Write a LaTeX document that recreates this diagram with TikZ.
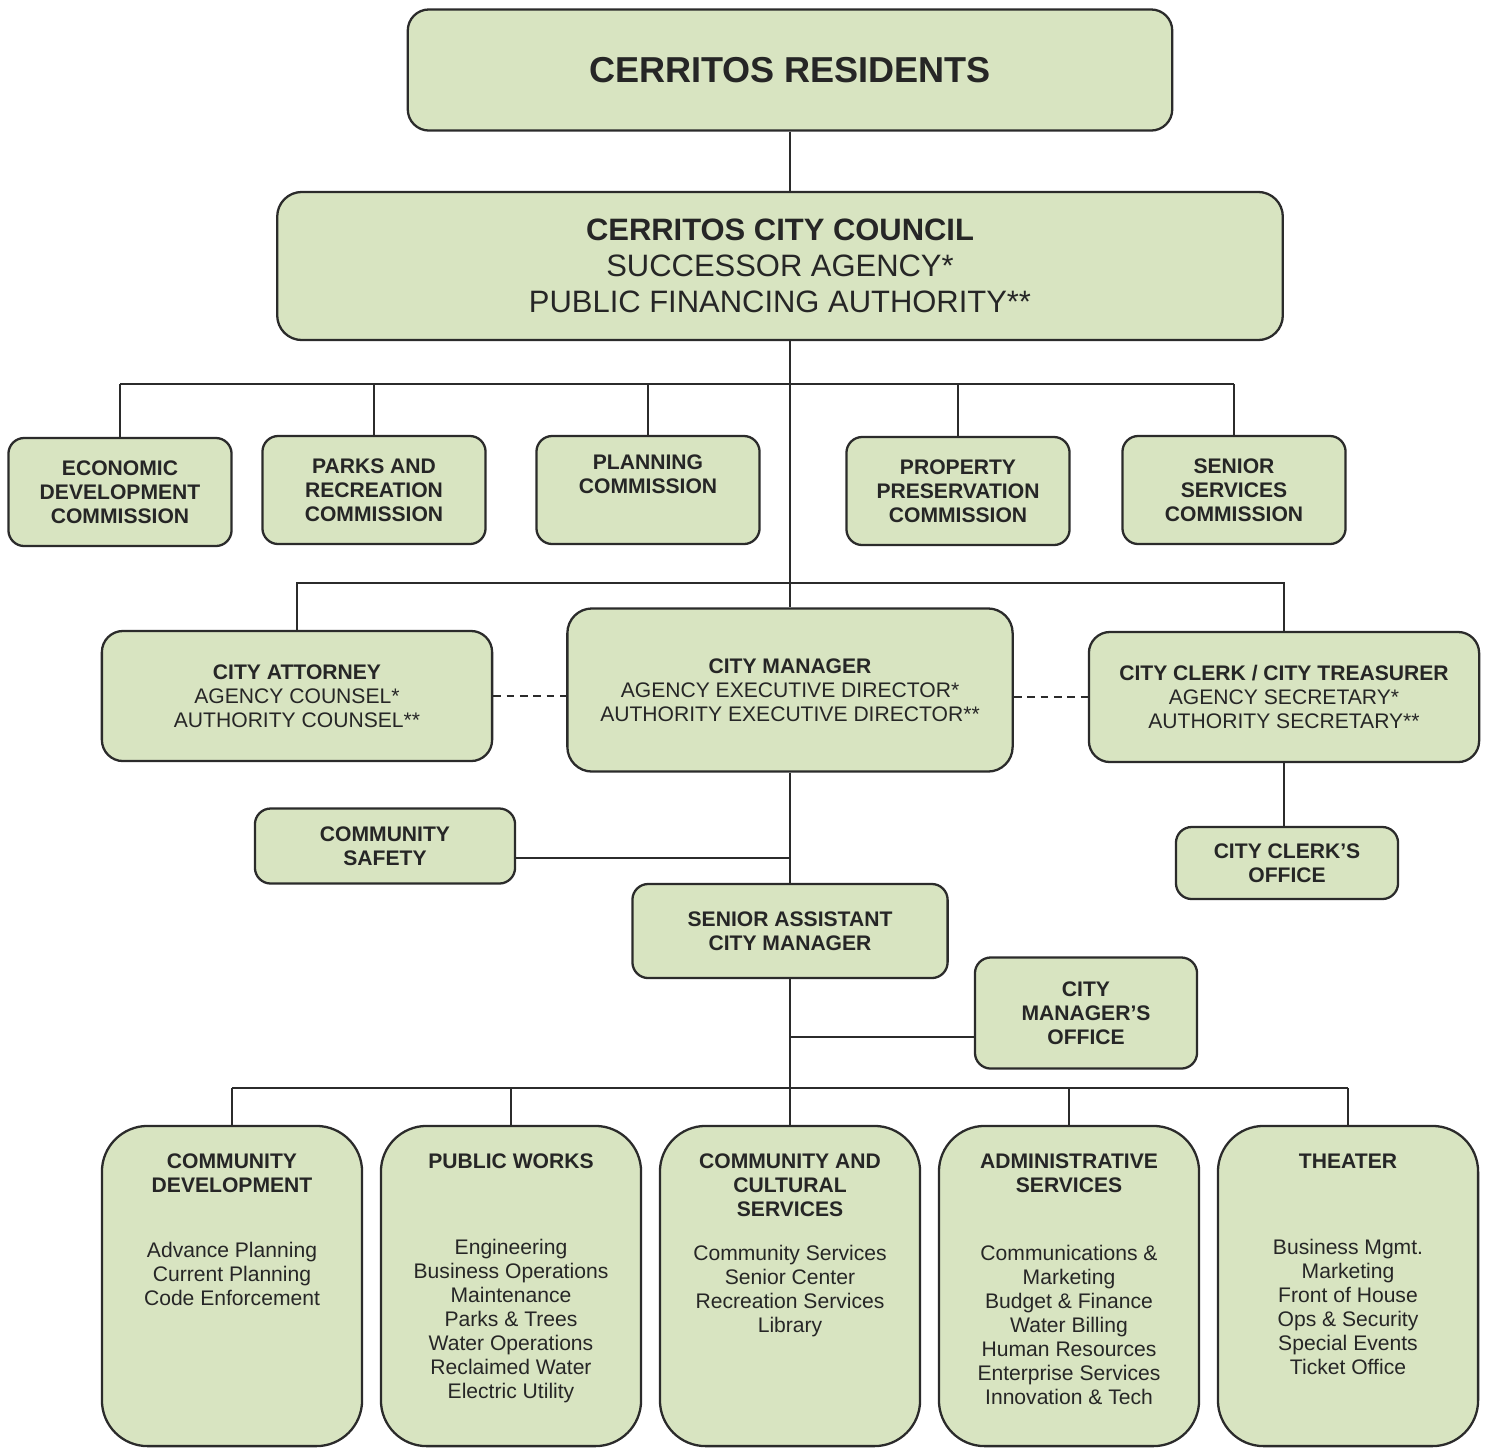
\documentclass[tikz,border=0pt]{standalone}
\usepackage{fontspec}
\setmainfont{Liberation Sans}
\usepackage{xcolor}
\usepackage{tikz}
\usetikzlibrary{positioning}
\definecolor{orggreen}{HTML}{D8E4C1}
\definecolor{orgline}{HTML}{2B2B2B}

\begin{document}
\begin{tikzpicture}[
  x=0.01cm, y=-0.01cm,
  box/.style={draw=orgline, fill=orggreen, line width=0.65pt, rounded corners=4.5pt, align=center, inner sep=0pt, text=black!85},
  commbox/.style={box, minimum width=2.23cm, minimum height=1.08cm, font=\fontsize{6}{6.83}\selectfont\bfseries},
  headbox/.style={box, minimum width=3.9cm, minimum height=1.3cm, font=\fontsize{6}{6.83}\selectfont, rounded corners=6pt},
  smallbox/.style={box, minimum width=2.23cm, font=\fontsize{6}{6.83}\selectfont\bfseries},
  deptbox/.style={box, minimum width=2.6cm, minimum height=3.2cm, rounded corners=13pt},
  depthead/.style={anchor=north, align=center, inner sep=0pt, font=\fontsize{6}{6.83}\selectfont\bfseries, text=black!85},
  deptlist/.style={anchor=north, align=center, inner sep=0pt, font=\fontsize{6}{6.83}\selectfont, text=black!85},
  link/.style={draw=orgline, line width=0.5pt},
  dashlink/.style={link, dash pattern=on 2.2pt off 1.6pt}
]
\useasboundingbox (0,0) rectangle (1486,1448);

% Top
\node[box, minimum width=7.64cm, minimum height=1.21cm, rounded corners=6pt, font=\fontsize{10.25}{12}\selectfont\bfseries] (res) at (790,70) {CERRITOS RESIDENTS};
\node[box, minimum width=10.05cm, minimum height=1.48cm, rounded corners=7pt, font=\fontsize{8.8}{10.2}\selectfont] (council) at (780,266) {\textbf{CERRITOS CITY COUNCIL}\\SUCCESSOR AGENCY*\\PUBLIC FINANCING AUTHORITY**};

% Commissions
\node[commbox] (econ) at (120,492) {ECONOMIC\\DEVELOPMENT\\COMMISSION};
\node[commbox] (parks) at (374,490) {PARKS AND\\RECREATION\\COMMISSION};
\node[commbox] (plan) at (648,490) {PLANNING\\COMMISSION\\\strut};
\node[commbox] (prop) at (958,491) {PROPERTY\\PRESERVATION\\COMMISSION};
\node[commbox] (senior) at (1234,490) {SENIOR\\SERVICES\\COMMISSION};

% Management
\node[headbox] (atty) at (297,696) {\textbf{CITY ATTORNEY}\\AGENCY COUNSEL*\\AUTHORITY COUNSEL**};
\node[headbox, minimum width=4.45cm, minimum height=1.63cm, rounded corners=7pt] (cm) at (790,690) {\textbf{CITY MANAGER}\\AGENCY EXECUTIVE DIRECTOR*\\AUTHORITY EXECUTIVE DIRECTOR**};
\node[headbox] (clerk) at (1284,697) {\textbf{CITY CLERK / CITY TREASURER}\\AGENCY SECRETARY*\\AUTHORITY SECRETARY**};

% Offices
\node[smallbox, minimum width=2.6cm, minimum height=0.75cm] (safety) at (385,846) {COMMUNITY\\SAFETY};
\node[smallbox, minimum width=3.15cm, minimum height=0.94cm] (sacm) at (790,931) {SENIOR ASSISTANT\\CITY MANAGER};
\node[smallbox, minimum width=2.22cm, minimum height=0.72cm] (clerkoff) at (1287,863) {CITY CLERK'S\\OFFICE};
\node[smallbox, minimum width=2.22cm, minimum height=1.11cm] (cmo) at (1086,1013) {CITY\\MANAGER'S\\OFFICE};

% Departments
\node[deptbox] (cd) at (232,1286) {};
\node[depthead] (cdhead) at ([yshift=-0.28cm]cd.north) {COMMUNITY\\DEVELOPMENT};
\node[deptlist] (cdlist) at ([yshift=-1.17cm]cd.north) {Advance Planning\\Current Planning\\Code Enforcement};

\node[deptbox] (pw) at (511,1286) {};
\node[depthead] (pwhead) at ([yshift=-0.28cm]pw.north) {PUBLIC WORKS};
\node[deptlist] (pwlist) at ([yshift=-1.14cm]pw.north) {Engineering\\Business Operations\\Maintenance\\Parks \& Trees\\Water Operations\\Reclaimed Water\\Electric Utility};

\node[deptbox] (ccs) at (790,1286) {};
\node[depthead] (ccshead) at ([yshift=-0.28cm]ccs.north) {COMMUNITY AND\\CULTURAL\\SERVICES};
\node[deptlist] (ccslist) at ([yshift=-1.2cm]ccs.north) {Community Services\\Senior Center\\Recreation Services\\Library};

\node[deptbox] (as) at (1069,1286) {};
\node[depthead] (ashead) at ([yshift=-0.28cm]as.north) {ADMINISTRATIVE\\SERVICES};
\node[deptlist] (aslist) at ([yshift=-1.2cm]as.north) {Communications \&\\Marketing\\Budget \& Finance\\Water Billing\\Human Resources\\Enterprise Services\\Innovation \& Tech};

\node[deptbox] (th) at (1348,1286) {};
\node[depthead] (thhead) at ([yshift=-0.28cm]th.north) {THEATER};
\node[deptlist] (thlist) at ([yshift=-1.14cm]th.north) {Business Mgmt.\\Marketing\\Front of House\\Ops \& Security\\Special Events\\Ticket Office};

% Bus lines
\coordinate (cbus) at (790,384);
\coordinate (mbus) at (790,583);
\coordinate (dbus) at (790,1088);

% Connectors
\draw[link] (res.south) -- (res.south |- council.north);
\draw[link] (council.south -| cm.north) -- (cm.north);
\draw[link] (cbus -| econ.north) -- (cbus -| senior.north);
\foreach \c in {econ, parks, plan, prop, senior}
  \draw[link] (cbus -| \c.north) -- (\c.north);
\draw[link] (atty.north) -- (atty.north |- mbus) -- (clerk.north |- mbus) -- (clerk.north);
\draw[dashlink] (atty.east) -- (atty.east -| cm.west);
\draw[dashlink] (clerk.west -| cm.east) -- (clerk.west);
\draw[link] (cm.south) -- (sacm.north);
\draw[link] ([yshift=-0.12cm]safety.east) -- ([yshift=-0.12cm]safety.east -| cm.south);
\draw[link] (clerk.south) -- (clerk.south |- clerkoff.north);
\draw[link] (sacm.south) -- (dbus);
\draw[link] ([yshift=-0.24cm]cmo.west) -- ([yshift=-0.24cm]cmo.west -| sacm.south);
\draw[link] (dbus -| cd.north) -- (dbus -| th.north);
\foreach \d in {cd, pw, ccs, as, th}
  \draw[link] (dbus -| \d.north) -- (\d.north);

\end{tikzpicture}
\end{document}
